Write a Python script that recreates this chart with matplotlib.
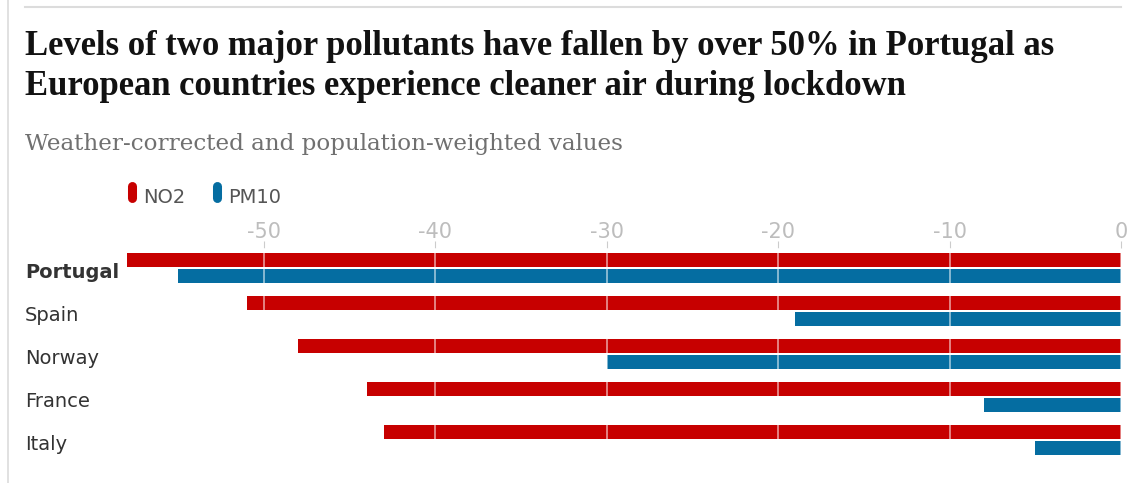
import matplotlib
matplotlib.use("Agg")
import matplotlib.pyplot as plt
from matplotlib.lines import Line2D
import numpy as np

countries = ["Portugal", "Spain", "Norway", "France", "Italy"]
no2 = [-58, -51, -48, -44, -43]
pm10 = [-55, -19, -30, -8, -5]
xticks = [-50, -40, -30, -20, -10, 0]
series_names = ["NO2", "PM10"]

RED = "#c70000"
BLUE = "#056da1"
W, H = 1127, 483
fig = plt.figure(figsize=(W / 100, H / 100), dpi=100)

def fx(px):
    return px / W

def fy(py):
    return 1 - py / H

# frame lines
fig.add_artist(Line2D([fx(8), fx(8)], [fy(0), fy(483)], color="#dcdcdc", lw=1.2))
fig.add_artist(Line2D([fx(25), fx(1121)], [fy(7), fy(7)], color="#dcdcdc", lw=1.5))

title_font = ["Liberation Serif", "DejaVu Serif"]
fig.text(fx(25), fy(55), "Levels of two major pollutants have fallen by over 50% in Portugal as",
         fontsize=24.9, fontweight="bold", family=title_font, color="#121212", va="baseline")
fig.text(fx(25), fy(95), "European countries experience cleaner air during lockdown",
         fontsize=24.9, fontweight="bold", family=title_font, color="#121212", va="baseline")
fig.text(fx(25), fy(150), "Weather-corrected and population-weighted values",
         fontsize=16.6, family="DejaVu Serif", color="#707070", va="baseline")

# legend
leg_x = [132, 217]
for x0, name, col in zip(leg_x, series_names, [RED, BLUE]):
    fig.add_artist(Line2D([fx(x0), fx(x0)], [fy(186), fy(198)], color=col, lw=6.5,
                          solid_capstyle="round"))
    fig.text(fx(x0 + 11), fy(203), name, fontsize=14, family="DejaVu Sans",
             color="#555555", va="baseline")

# axes
ax_left, ax_right = 127, 1121
ax_top, ax_bot = 248, 460
ax = fig.add_axes([fx(ax_left), fy(ax_bot), (ax_right - ax_left) / W, (ax_bot - ax_top) / H])
y = np.arange(len(countries))
bh = 0.326
off = 0.186
ax.barh(y - off, no2, height=bh, color=RED, zorder=2)
ax.barh(y + off, pm10, height=bh, color=BLUE, zorder=2)
for t in xticks:
    ax.axvline(t, color="white", lw=1.2, alpha=0.6, zorder=3)
ax.set_xlim(-58, 0)
ax.set_ylim(4.465, -0.465)
ax.set_xticks(xticks)
ax.set_xticklabels([str(t) for t in xticks])
ax.xaxis.tick_top()
ax.tick_params(axis="x", length=5, color="#cccccc", labelcolor="#bdbdbd",
               labelsize=15, pad=-1)
for lab in ax.get_xticklabels():
    lab.set_family("DejaVu Sans")
ax.set_yticks([])
for s in ax.spines.values():
    s.set_visible(False)
ax.patch.set_alpha(0)

for i, c in enumerate(countries):
    fig.text(fx(25), fy(278 + 43 * i), c, fontsize=14, family="DejaVu Sans",
             color="#333333", va="baseline", fontweight="bold" if i == 0 else "normal")

fig.savefig("out.png", dpi=100)
